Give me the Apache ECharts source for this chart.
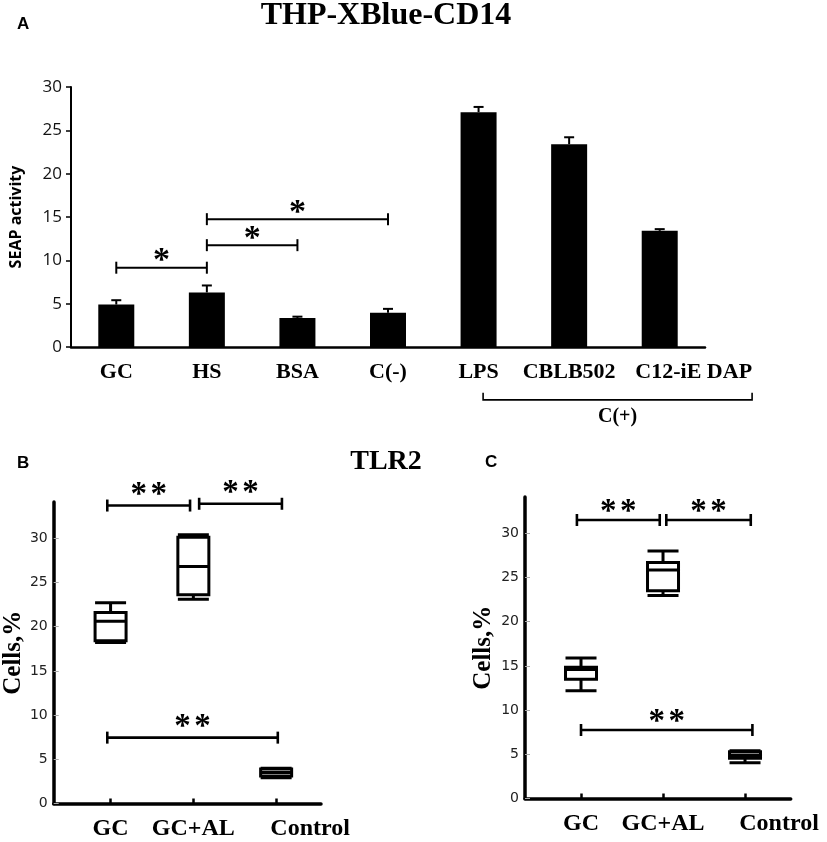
<!DOCTYPE html>
<html>
<head>
<meta charset="utf-8">
<script src="https://cdn.jsdelivr.net/npm/echarts@6/dist/echarts.min.js"></script>
<style>
  html, body { margin: 0; padding: 0; background: #fff; }
  #chart { width: 827px; height: 842px; }
</style>
</head>
<body>
<div id="chart"></div>
<script>
// ---- panel A: THP-XBlue-CD14, SEAP activity ----
const seapGroups = ['GC', 'HS', 'BSA', 'C(-)', 'LPS', 'CBLB502', 'C12-iE DAP'];
const seapMeans  = [4.9, 6.3, 3.35, 3.95, 27.1, 23.4, 13.4];
const seapErrTop = [5.4, 7.1, 3.5, 4.4, 27.7, 24.2, 13.6];
const seapTicks  = [0, 5, 10, 15, 20, 25, 30];
// [from, to, level, mark]  (positions in category steps)
const seapBrackets = [
  [0, 1, 9.15, '*'],
  [1, 2, 11.75, '*'],
  [1, 3, 14.75, '*']
];
// positive controls group under the axis
const seapGroupBracket = [[4.05, 7.02, -6.1, 'C(+)']];

// ---- panels B, C: TLR2 box plots, Cells, % ----
const boxGroups = ['GC', 'GC+AL', 'Control'];
const boxTicks  = [0, 5, 10, 15, 20, 25, 30];
// [min, Q1, median, Q3, max]
const tlr2B = [
  [18.2, 18.4, 20.6, 21.6, 22.7],
  [23.1, 23.6, 26.8, 30.1, 30.4],
  [2.9, 3.1, 3.5, 3.9, 4.0]
];
const tlr2C = [
  [12.2, 13.5, 14.6, 14.85, 15.9],
  [22.95, 23.5, 25.85, 26.7, 28.0],
  [4.05, 4.55, 4.9, 5.3, 5.4]
];
const bracketsB = [
  [0.96, 1.96, 33.7, '**'],
  [2.07, 3.07, 33.9, '**'],
  [0.96, 3.02, 7.45, '**']
];
const bracketsC = [
  [0.95, 1.96, 31.5, '**'],
  [2.04, 3.07, 31.5, '**'],
  [1.0, 3.09, 7.75, '**']
];

const SERIF = '"Liberation Serif", "Times New Roman", serif';
const shiftedLabels = ['C12-iE DAP', 'Control'];
const LABEL_SHIFT = 34;

const chart = echarts.init(document.getElementById('chart'), null, { renderer: 'canvas' });

// x position measured in axis steps from 0 (works for category and value axes)
function at(api, x, y) {
  const p = api.coord([0, y]);
  return [p[0] + x * api.size([1, 0])[0], p[1]];
}

function bracketRender(list, starGap, fontSize, lw) {
  return function (params, api) {
    const b = list[params.dataIndex];
    const a = at(api, b[0], b[2]);
    const c = at(api, b[1], b[2]);
    const st = { stroke: '#000', lineWidth: lw };
    const kids = [
      { type: 'line', shape: { x1: a[0], y1: a[1], x2: c[0], y2: c[1] }, style: st },
      { type: 'line', shape: { x1: a[0], y1: a[1] - 6, x2: a[0], y2: a[1] + 6 }, style: st },
      { type: 'line', shape: { x1: c[0], y1: c[1] - 6, x2: c[0], y2: c[1] + 6 }, style: st }
    ];
    const n = b[3].length;
    for (let k = 0; k < n; k++) {
      kids.push({
        type: 'text',
        style: {
          text: b[3][k],
          x: (a[0] + c[0]) / 2 + (k - (n - 1) / 2) * 20, y: a[1] - starGap,
          align: 'center', verticalAlign: 'middle',
          font: 'bold ' + fontSize + 'px ' + SERIF, fill: '#000'
        }
      });
    }
    return { type: 'group', children: kids };
  };
}

function groupBracketRender(params, api) {
  const b = seapGroupBracket[params.dataIndex];
  const a = at(api, b[0], b[2]);
  const c = at(api, b[1], b[2]);
  return {
    type: 'group',
    children: [
      { type: 'polyline', shape: { points: [[a[0], a[1] - 7], a, c, [c[0], c[1] - 7]] },
        style: { fill: null, stroke: '#000', lineWidth: 1.6 } },
      {
        type: 'text',
        style: {
          text: b[3], x: (a[0] + c[0]) / 2, y: a[1] + 17,
          align: 'center', verticalAlign: 'middle',
          font: 'bold 20px ' + SERIF, fill: '#000'
        }
      }
    ]
  };
}

function errorRender(params, api) {
  const i = params.dataIndex;
  const p0 = at(api, i, seapMeans[i]);
  const p1 = at(api, i, seapErrTop[i]);
  const st = { stroke: '#000', lineWidth: 2 };
  return {
    type: 'group',
    children: [
      { type: 'line', shape: { x1: p0[0], y1: p0[1], x2: p1[0], y2: p1[1] }, style: st },
      { type: 'line', shape: { x1: p1[0] - 5, y1: p1[1], x2: p1[0] + 5, y2: p1[1] }, style: st }
    ]
  };
}

function catLabelFormatter(name) {
  return shiftedLabels.indexOf(name) >= 0 ? '{s|' + name + '}' : '{p|' + name + '}';
}
function catRich(size) {
  const font = { fontFamily: SERIF, fontWeight: 'bold', fontSize: size, color: '#000' };
  return { p: font, s: Object.assign({ padding: [0, 0, 0, LABEL_SHIFT * 2] }, font) };
}

function boxXAxis(gridIndex, min, max) {
  return {
    gridIndex, type: 'value', min, max,
    splitLine: { show: false },
    axisLine: { onZero: false, lineStyle: { color: '#000', width: 3.5 } },
    axisTick: { inside: true, length: 5, customValues: [1, 2, 3], lineStyle: { color: '#000', width: 2.5 } },
    axisLabel: {
      customValues: [1, 2, 3], margin: 13,
      formatter: v => catLabelFormatter(boxGroups[Math.round(v) - 1]),
      rich: catRich(24)
    }
  };
}
function boxYAxis(gridIndex, nameGap) {
  return {
    gridIndex, type: 'value', min: 0, max: 34.1,
    name: 'Cells,%', nameLocation: 'middle', nameRotate: 90, nameGap,
    nameTextStyle: { fontFamily: SERIF, fontWeight: 'bold', fontSize: 25, color: '#000' },
    splitLine: { show: false },
    axisLine: { onZero: false, lineStyle: { color: '#000', width: 3.5 } },
    axisTick: { inside: true, length: 5, customValues: boxTicks, lineStyle: { color: '#aaa', width: 1 } },
    axisLabel: { customValues: boxTicks, margin: 6, fontFamily: '"DejaVu Sans", sans-serif', fontSize: 14, color: '#222' }
  };
}
function boxSeries(idx, values) {
  return {
    type: 'boxplot', xAxisIndex: idx, yAxisIndex: idx,
    data: values.map((v, i) => [i + 1].concat(v)),
    boxWidth: [31, 31],
    itemStyle: { color: '#fff', borderColor: '#000', borderWidth: 3 },
    silent: true
  };
}

const letterFont = 'bold 17px "Liberation Sans", Arial, sans-serif';
const option = {
  animation: false,
  backgroundColor: '#fff',
  graphic: [
    { type: 'text', left: 17, top: 16, style: { text: 'A', font: letterFont, fill: '#000' } },
    { type: 'text', left: 17, top: 455, style: { text: 'B', font: letterFont, fill: '#000' } },
    { type: 'text', left: 485, top: 454, style: { text: 'C', font: letterFont, fill: '#000' } },
    { type: 'text', x: 386, y: 16, style: { text: 'THP-XBlue-CD14', align: 'center', verticalAlign: 'middle', font: 'bold 32px ' + SERIF, fill: '#000' } },
    { type: 'text', x: 386, y: 462, style: { text: 'TLR2', align: 'center', verticalAlign: 'middle', font: 'bold 28px ' + SERIF, fill: '#000' } }
  ],
  grid: [
    { left: 71, top: 87, width: 634, height: 260 },
    { left: 53, top: 502, width: 268, height: 301.5 },
    { left: 525, top: 497, width: 265.7, height: 301.5 }
  ],
  xAxis: [
    {
      gridIndex: 0, type: 'category', data: seapGroups,
      axisLine: { lineStyle: { color: '#000', width: 2.5 } },
      axisTick: { length: 4, lineStyle: { color: '#555', width: 1 } },
      axisLabel: { margin: 14, interval: 0, formatter: catLabelFormatter, rich: catRich(22) }
    },
    boxXAxis(1, 0.313, 3.542),
    boxXAxis(2, 0.317, 3.557)
  ],
  yAxis: [
    {
      gridIndex: 0, type: 'value', min: 0, max: 30, interval: 5,
      name: 'SEAP activity', nameLocation: 'middle', nameRotate: 90, nameGap: 47,
      nameTextStyle: { fontFamily: '"Open Sans", sans-serif', fontWeight: 'bold', fontSize: 16, color: '#000' },
      splitLine: { show: false },
      axisLine: { show: true, lineStyle: { color: '#000', width: 2 } },
      axisTick: { show: true, length: 5, lineStyle: { color: '#000', width: 1.5 } },
      axisLabel: { margin: 9, fontFamily: '"Open Sans", sans-serif', fontSize: 17, color: '#111',
                   customValues: seapTicks }
    },
    boxYAxis(1, 27),
    boxYAxis(2, 29)
  ],
  series: [
    {
      type: 'bar', xAxisIndex: 0, yAxisIndex: 0, data: seapMeans,
      barWidth: 36, itemStyle: { color: '#000' }, silent: true
    },
    {
      type: 'custom', xAxisIndex: 0, yAxisIndex: 0, clip: false, silent: true, z: 3,
      data: seapGroups.map((g, i) => [i, seapErrTop[i]]),
      renderItem: errorRender
    },
    {
      type: 'custom', xAxisIndex: 0, yAxisIndex: 0, clip: false, silent: true,
      data: seapBrackets.map(b => [0, b[2]]),
      renderItem: bracketRender(seapBrackets, 6, 34, 2)
    },
    {
      type: 'custom', xAxisIndex: 0, yAxisIndex: 0, clip: false, silent: true,
      data: seapGroupBracket.map(b => [0, b[2]]),
      renderItem: groupBracketRender
    },
    boxSeries(1, tlr2B),
    {
      type: 'custom', xAxisIndex: 1, yAxisIndex: 1, clip: false, silent: true,
      data: bracketsB.map(b => [1, b[2]]),
      renderItem: bracketRender(bracketsB, 10, 33, 2.6)
    },
    boxSeries(2, tlr2C),
    {
      type: 'custom', xAxisIndex: 2, yAxisIndex: 2, clip: false, silent: true,
      data: bracketsC.map(b => [1, b[2]]),
      renderItem: bracketRender(bracketsC, 8, 33, 2.6)
    }
  ]
};

chart.setOption(option);
</script>
</body>
</html>
